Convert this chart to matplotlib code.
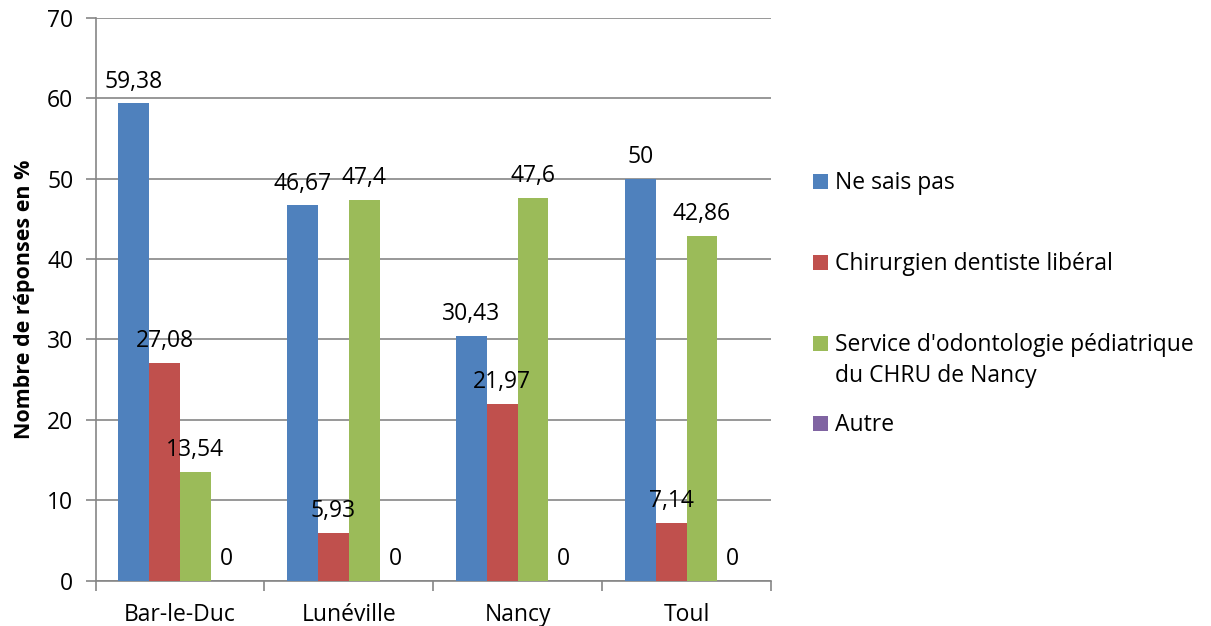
import numpy as np
import matplotlib.pyplot as plt
from matplotlib.patches import Rectangle

plt.rcParams['font.family'] = ['Open Sans', 'DejaVu Sans']

villes = ['Bar-le-Duc', 'Lunéville', 'Nancy', 'Toul']
series = ['Ne sais pas', 'Chirurgien dentiste libéral',
          "Service d'odontologie pédiatrique\ndu CHRU de Nancy", 'Autre']
ne_sais_pas = [59.38, 46.67, 30.43, 50]
chirurgien = [27.08, 5.93, 21.97, 7.14]
service_chru = [13.54, 47.4, 47.6, 42.86]
autre = [0, 0, 0, 0]
couleurs = ['#4F81BD', '#C0504D', '#9BBB59', '#8064A2']

W, H = 1211, 626
FS = 16.5


def fmt(v):  # virgule decimale a la francaise
    s = ('%.2f' % v).rstrip('0').rstrip('.')
    return s.replace('.', ',')


fig = plt.figure(figsize=(W / 100, H / 100), dpi=100)
ax = fig.add_axes([95.5 / W, 45.5 / H, 675.5 / W, 562.5 / H])

x = np.arange(len(villes))
width = 0.1824
valeurs = [ne_sais_pas, chirurgien, service_chru, autre]
for i, vals in enumerate(valeurs):
    pos = x + (i - 1.5) * width
    ax.bar(pos, vals, width, color=couleurs[i], zorder=3)
    for p, v in zip(pos, vals):
        ax.annotate(fmt(v), (p, v), xytext=(0, 7), textcoords='offset points',
                    ha='center', va='bottom', fontsize=FS, color='black', zorder=4)

ax.set_xlim(-0.5, len(villes) - 0.5)
ax.set_ylim(0, 70)
ax.set_yticks(range(0, 71, 10))
ax.yaxis.grid(True, color='#868686', linewidth=1.2, zorder=0)
ax.set_axisbelow(True)

ax.set_xticks(x)
ax.set_xticklabels(villes, fontsize=FS)
ax.set_xticks(np.arange(-0.5, len(villes)), minor=True)
ax.tick_params(axis='x', which='major', length=0, pad=16)
ax.tick_params(axis='x', which='minor', length=7, color='#868686', width=1.2)
ax.tick_params(axis='y', length=7, color='#868686', width=1.2, labelsize=FS, pad=9)

for s in ['top', 'right']:
    ax.spines[s].set_visible(False)
for s in ['left', 'bottom']:
    ax.spines[s].set_color('#868686')
    ax.spines[s].set_linewidth(1.2)

ax.set_ylabel('Nombre de réponses en %', fontsize=15.5, fontweight='bold', labelpad=9)

# legende dessinee a la main (positions en pixels, origine en haut)
baselines = [189, 270, 351, 431]
for c, lab, b in zip(couleurs, series, baselines):
    fig.patches.append(Rectangle((813 / W, 1 - b / H), 15 / W, 15 / H,
                                 facecolor=c, transform=fig.transFigure, figure=fig))
    for k, ligne in enumerate(lab.split('\n')):
        fig.text(835 / W, 1 - (b + 31 * k) / H, ligne, fontsize=FS,
                 ha='left', va='baseline')

fig.savefig('out.png', dpi=100)
